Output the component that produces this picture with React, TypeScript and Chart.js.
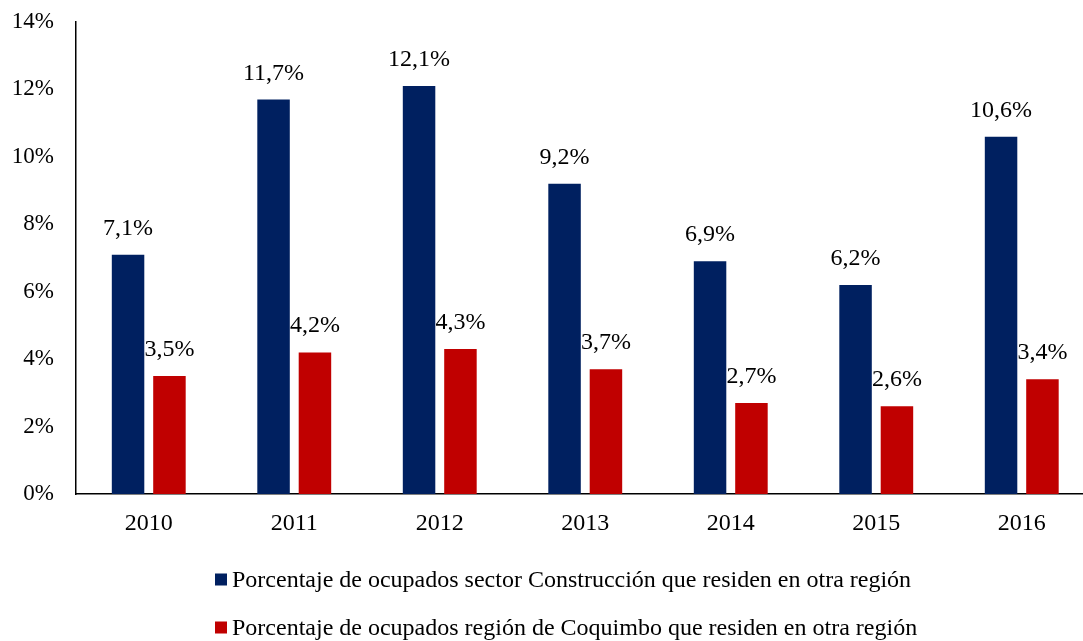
import React, { useEffect, useRef } from 'react';
import { Chart, registerables } from 'chart.js';

Chart.register(...registerables);

const categories = ['2010', '2011', '2012', '2013', '2014', '2015', '2016'];
const construccion = [7.1, 11.7, 12.1, 9.2, 6.9, 6.2, 10.6];
const coquimbo = [3.5, 4.2, 4.3, 3.7, 2.7, 2.6, 3.4];
const seriesNames = [
  'Porcentaje de ocupados sector Construcción que residen en otra región',
  'Porcentaje de ocupados región de Coquimbo que residen en otra región',
];
const seriesColors = ['#002060', '#C00000'];

const FONT = '"Liberation Serif", "Times New Roman", serif';
const fmt = (v: number) => v.toFixed(1).replace('.', ',') + '%';

const valueLabels = {
  id: 'valueLabels',
  afterDatasetsDraw(chart: any) {
    const ctx = chart.ctx;
    ctx.save();
    ctx.font = `24px ${FONT}`;
    ctx.fillStyle = '#000';
    ctx.textAlign = 'center';
    ctx.textBaseline = 'alphabetic';
    chart.data.datasets.forEach((ds: any, i: number) => {
      const meta = chart.getDatasetMeta(i);
      meta.data.forEach((bar: any, j: number) => {
        ctx.fillText(fmt(ds.data[j]), bar.x, bar.y - 20);
      });
    });
    ctx.restore();
  },
};

const bottomLegend = {
  id: 'bottomLegend',
  afterDraw(chart: any) {
    const ctx = chart.ctx;
    ctx.save();
    ctx.font = `24px ${FONT}`;
    ctx.textAlign = 'left';
    ctx.textBaseline = 'alphabetic';
    chart.data.datasets.forEach((ds: any, i: number) => {
      const baseY = 587 + i * 48;
      ctx.fillStyle = ds.backgroundColor;
      ctx.fillRect(215, baseY - 13.5, 12, 12);
      ctx.fillStyle = '#000';
      ctx.fillText(ds.label, 232, baseY);
    });
    ctx.restore();
  },
};

export default function App() {
  const canvasRef = useRef<HTMLCanvasElement | null>(null);

  useEffect(() => {
    if (!canvasRef.current) return;
    const chart = new Chart(canvasRef.current, {
      type: 'bar',
      data: {
        labels: categories,
        datasets: [
          {
            label: seriesNames[0],
            data: construccion,
            backgroundColor: seriesColors[0],
            categoryPercentage: 0.569,
            barPercentage: 0.785,
          },
          {
            label: seriesNames[1],
            data: coquimbo,
            backgroundColor: seriesColors[1],
            categoryPercentage: 0.569,
            barPercentage: 0.785,
          },
        ],
      },
      options: {
        animation: false,
        responsive: true,
        maintainAspectRatio: false,
        layout: { padding: { top: 22, right: 5.5, left: 0, bottom: 0 } },
        plugins: {
          legend: { display: false },
          tooltip: { enabled: false },
        },
        scales: {
          x: {
            grid: { display: false, drawTicks: false },
            border: { display: true, color: '#000', width: 1.5 },
            ticks: {
              color: '#000',
              font: { family: FONT, size: 24 },
              padding: 15,
            },
            afterFit: (scale: any) => {
              scale.height = 147;
            },
          },
          y: {
            min: 0,
            max: 14,
            grid: { display: false, drawTicks: false },
            border: { display: true, color: '#000', width: 1.5 },
            ticks: {
              stepSize: 2,
              color: '#000',
              font: { family: FONT, size: 23 },
              padding: 22,
              callback: (v: any) => v + '%',
            },
            afterFit: (scale: any) => {
              scale.width = 76;
              scale.paddingTop = 0;
              scale.paddingBottom = 0;
            },
          },
        },
      },
      plugins: [valueLabels, bottomLegend],
    });
    return () => chart.destroy();
  }, []);

  return (
    <div
      style={{
        position: 'fixed',
        left: 0,
        top: 0,
        width: 1083,
        height: 641,
        overflow: 'hidden',
        background: '#fff',
      }}
    >
      <div style={{ position: 'absolute', left: 0, top: 0, width: 1100, height: 641 }}>
        <canvas ref={canvasRef} />
      </div>
    </div>
  );
}
